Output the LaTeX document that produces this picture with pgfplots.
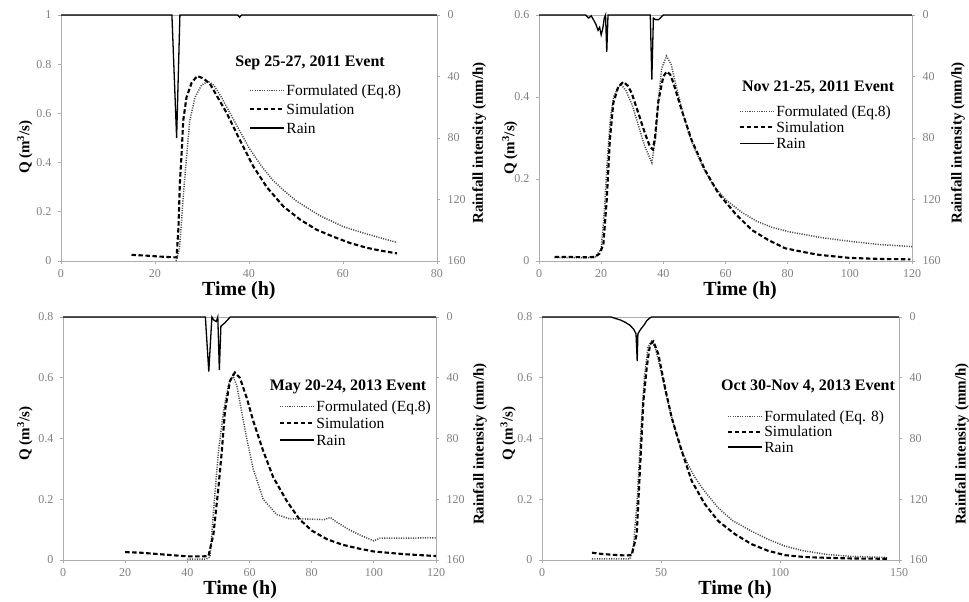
\documentclass[border=0pt]{standalone}
\usepackage{fontspec}
\setmainfont{Liberation Serif}
\usepackage{pgfplots}
\pgfplotsset{compat=1.18}

\definecolor{axgray}{gray}{0.68}
\definecolor{tickgray}{gray}{0.50}
\definecolor{formgray}{gray}{0.30}

\newcommand\lgd{\fontsize{15.5}{17}\selectfont\strut}
\tikzset{ttl/.style={font=\bfseries\fontsize{16}{16}\selectfont}}
\pgfplotsset{
  panel/.style={scale only axis, clip=false,
    axis line style={axgray, line width=0.7pt},
    tick style={axgray, line width=0.7pt},
    major tick length=3pt, tick align=outside,
    tick label style={font=\fontsize{12}{12}\selectfont, text=tickgray},
    xticklabel style={yshift=-1.5pt}, yticklabel style={xshift=-3pt},
    /pgf/number format/assume math mode=true,
    xtick pos=bottom, ytick pos=left,
    xlabel={Time (h)}, ylabel={Q (m\textsuperscript{3}/s)},
    xlabel style={font=\bfseries\fontsize{20}{20}\selectfont, anchor=center},
    ylabel style={font=\bfseries\fontsize{15}{15}\selectfont, anchor=center},
    legend cell align=left,
    legend image code/.code={\draw[##1] (0pt,0pt) -- (34pt,0pt);},
    legend style={draw=none, fill=none, anchor=north west, inner sep=0pt,
      nodes={inner sep=1.5pt}},
  },
  rainax/.style={scale only axis, clip=false,
    axis x line=none, axis y line*=right, y dir=reverse,
    ymin=0, ymax=160, ytick={0,40,...,160},
    axis line style={axgray, line width=0.7pt},
    tick style={axgray, line width=0.7pt},
    major tick length=3pt, tick align=outside,
    tick label style={font=\fontsize{12}{12}\selectfont, text=tickgray},
    yticklabel style={xshift=4pt},
    /pgf/number format/assume math mode=true,
    ylabel={Rainfall intensity (mm/h)},
    ylabel style={font=\bfseries\fontsize{15}{15}\selectfont, anchor=center},
  },
  sim/.style={black, line width=2.1pt, dash pattern=on 4.5pt off 2.5pt},
  form/.style={formgray, line width=1.5pt, dash pattern=on 1.1pt off 1.3pt},
  rain/.style={black, line width=1.3pt},
}

\begin{document}
\begin{tikzpicture}
\useasboundingbox (0,0) rectangle (969pt,602pt);

% ---------- Sep 25-27, 2011 ----------
\begin{axis}[panel, at={(61pt,341pt)}, anchor=south west, width=376pt, height=246pt,
  xmin=0, xmax=80, ymin=0, ymax=1, xtick={0,20,...,80}, ytick={0,0.2,...,1},
  xlabel style={at={(axis description cs:0.473,-0.122)}},
  ylabel style={at={(axis description cs:-0.096,0.463)}},
  legend style={at={(0.499,0.728)}, row sep=2.5pt}]
\addplot[form] coordinates {(24.5,0.0)(25.2,0.05)(25.6,0.15)(26.0,0.26)(26.7,0.42)(27.4,0.57)(28.5,0.665)(29.9,0.715)(31.3,0.73)(32.5,0.715)(34,0.67)(36,0.6)(38,0.53)(40,0.46)(42.5,0.39)(45,0.33)(47.5,0.285)(50,0.245)(55,0.185)(60,0.14)(65,0.11)(71.5,0.075)};
\addplot[sim] coordinates {(15,0.025)(18,0.022)(21,0.018)(24,0.015)(24.6,0.015)(25.0,0.14)(25.3,0.32)(25.7,0.45)(26.0,0.57)(26.7,0.665)(27.8,0.725)(29.0,0.752)(30.3,0.742)(31.7,0.72)(33.8,0.65)(35.3,0.6)(38.1,0.49)(40.9,0.385)(43.8,0.3)(47.3,0.222)(50.9,0.168)(54.4,0.127)(57.9,0.099)(61.5,0.073)(65.0,0.054)(68,0.042)(71.5,0.031)};
\addlegendimage{rain}
\legend{\lgd Formulated (Eq.8), \lgd Simulation, \lgd Rain}
\node[ttl] at (axis cs:53,0.805) {Sep 25-27, 2011 Event};
\end{axis}
\begin{axis}[rainax, at={(61pt,341pt)}, anchor=south west, width=376pt, height=246pt,
  xmin=0, xmax=80,
  ylabel style={at={(axis description cs:1.112,0.48)}}]
\addplot[rain] coordinates {(0,0)(23.6,0)(24.6,80)(25.3,0)(37.6,0)(38,1.5)(38.4,0)(80,0)};
\end{axis}

% ---------- Nov 21-25, 2011 ----------
\begin{axis}[panel, at={(539pt,341pt)}, anchor=south west, width=373pt, height=246pt,
  xmin=0, xmax=120, ymin=0, ymax=0.6, xtick={0,20,...,120}, ytick={0,0.2,...,0.6},
  xlabel style={at={(axis description cs:0.539,-0.122)}},
  ylabel style={at={(axis description cs:-0.078,0.46)}},
  legend style={at={(0.535,0.642)}, row sep=-0.5pt}]
\addplot[form] coordinates {(5,0.008)(18,0.008)(20,0.03)(21,0.12)(22,0.25)(23,0.35)(24,0.40)(25.5,0.425)(26.5,0.43)(28,0.415)(30,0.38)(32,0.33)(34,0.28)(36.3,0.24)(37.5,0.30)(38.5,0.40)(39.5,0.47)(41,0.50)(42.5,0.48)(44,0.43)(46,0.37)(48,0.315)(50,0.275)(53,0.225)(56,0.185)(60,0.15)(65,0.12)(70,0.097)(75,0.082)(80,0.072)(90,0.058)(100,0.048)(110,0.04)(120,0.035)};
\addplot[sim] coordinates {(5,0.01)(10,0.01)(15,0.009)(18,0.01)(19.5,0.018)(20.7,0.04)(21.8,0.15)(22.8,0.295)(23.9,0.385)(25.5,0.425)(27.1,0.437)(28.5,0.428)(29.8,0.41)(32.0,0.36)(34.1,0.311)(35.7,0.279)(36.6,0.272)(37.3,0.30)(38.4,0.39)(40.0,0.45)(41.1,0.462)(42.2,0.455)(43.2,0.435)(45.9,0.368)(49.1,0.295)(53.4,0.222)(57.7,0.165)(63.1,0.116)(68.4,0.076)(73.8,0.051)(79.2,0.031)(85,0.022)(90,0.015)(100,0.0075)(110,0.005)(119.5,0.004)};
\addlegendimage{rain}
\legend{\lgd Formulated (Eq.8), \lgd Simulation, \lgd Rain}
\node[ttl] at (axis cs:89.8,0.424) {Nov 21-25, 2011 Event};
\end{axis}
\begin{axis}[rainax, at={(539pt,341pt)}, anchor=south west, width=373pt, height=246pt,
  xmin=0, xmax=120,
  ylabel style={at={(axis description cs:1.123,0.48)}}]
\addplot[rain] coordinates {(0,0)(15,0)(16,2)(16.8,0.5)(17.5,3)(18.3,6)(19,10)(19.5,8)(20,13)(20.5,9)(21,2)(21.4,0)(21.8,24)(22.2,0)(35.8,0)(36.3,42)(36.8,2)(37.5,3)(38.5,3)(39.5,1)(40,0)(120,0)};
\end{axis}

% ---------- May 20-24, 2013 ----------
\begin{axis}[panel, at={(63pt,42pt)}, anchor=south west, width=373pt, height=243pt,
  xmin=0, xmax=120, ymin=0, ymax=0.8, xtick={0,20,...,120}, ytick={0,0.2,...,0.8},
  xlabel style={at={(axis description cs:0.475,-0.124)}},
  ylabel style={at={(axis description cs:-0.102,0.52)}},
  legend style={at={(0.578,0.667)}, row sep=0.5pt}]
\addplot[form] coordinates {(40,0.003)(46,0.003)(47.3,0.01)(48.4,0.158)(50.0,0.356)(51.6,0.487)(53.2,0.575)(54.6,0.608)(55.9,0.575)(57.5,0.487)(59.1,0.40)(61.2,0.30)(64.4,0.20)(68.7,0.15)(73,0.135)(78,0.135)(84,0.133)(86,0.14)(88,0.125)(92,0.1)(96,0.08)(100,0.063)(102,0.072)(110,0.072)(120,0.073)};
\addplot[sim] coordinates {(20,0.026)(25,0.024)(30,0.02)(35,0.016)(40,0.012)(45,0.012)(46.8,0.013)(48.4,0.085)(50.0,0.238)(51.1,0.359)(52.1,0.49)(53.7,0.589)(55.3,0.617)(56.9,0.60)(59.1,0.534)(61.2,0.458)(64.4,0.359)(67.7,0.271)(72.0,0.194)(76,0.135)(80,0.097)(85,0.068)(90,0.05)(95,0.038)(100,0.028)(110,0.019)(120,0.013)};
\addlegendimage{rain}
\legend{\lgd Formulated (Eq.8), \lgd Simulation, \lgd Rain}
\node[ttl] at (axis cs:91.7,0.57) {May 20-24, 2013 Event};
\end{axis}
\begin{axis}[rainax, at={(63pt,42pt)}, anchor=south west, width=373pt, height=243pt,
  xmin=0, xmax=120,
  ylabel style={at={(axis description cs:1.118,0.477)}}]
\addplot[rain] coordinates {(0,0)(45.8,0)(46.9,36)(47.9,0)(48.5,2)(49.3,3)(49.8,0)(50.3,35)(50.8,6)(52,4)(53.8,0)(120,0)};
\end{axis}

% ---------- Oct 30-Nov 4, 2013 ----------
\begin{axis}[panel, at={(542pt,42pt)}, anchor=south west, width=357pt, height=243pt,
  xmin=0, xmax=150, ymin=0, ymax=0.8, xtick={0,50,100,150}, ytick={0,0.2,...,0.8},
  xlabel style={at={(axis description cs:0.541,-0.124)}},
  ylabel style={at={(axis description cs:-0.095,0.52)}},
  legend style={at={(0.517,0.626)}, row sep=-1pt}]
\addplot[form] coordinates {(21,0.004)(37,0.004)(38.5,0.05)(40,0.2)(41.5,0.42)(43,0.6)(44.5,0.7)(46,0.72)(47.5,0.7)(49.5,0.64)(52,0.55)(55,0.455)(58,0.375)(61,0.32)(64,0.275)(67,0.24)(70,0.21)(74,0.172)(80,0.13)(85,0.108)(88,0.095)(95,0.068)(102,0.046)(110,0.03)(120,0.018)(130,0.012)(145,0.008)};
\addplot[sim] coordinates {(21,0.024)(25,0.02)(30,0.017)(35,0.015)(37.7,0.016)(39.8,0.085)(41.2,0.304)(42.6,0.523)(44.0,0.633)(45.4,0.71)(46.8,0.72)(48.9,0.677)(51.7,0.567)(54.5,0.468)(58.7,0.359)(62.9,0.26)(68.5,0.183)(74.1,0.128)(81.1,0.085)(88.1,0.052)(95.1,0.03)(102.1,0.016)(110,0.01)(116.1,0.008)(130,0.005)(145,0.004)};
\addlegendimage{rain}
\legend{\lgd Formulated (Eq. 8), \lgd Simulation, \lgd Rain}
\node[ttl] at (axis cs:111.8,0.57) {Oct 30-Nov 4, 2013 Event};
\end{axis}
\begin{axis}[rainax, at={(542pt,42pt)}, anchor=south west, width=357pt, height=243pt,
  xmin=0, xmax=150,
  ylabel style={at={(axis description cs:1.176,0.477)}}]
\addplot[rain] coordinates {(0,0)(29,0)(31,1)(33,2)(35,3.5)(37,5.5)(38.5,8)(39.5,11)(40,29)(40.3,11)(41.5,8)(43,5)(44,2.5)(45,1)(46,0)(150,0)};
\end{axis}
\end{tikzpicture}
\end{document}
